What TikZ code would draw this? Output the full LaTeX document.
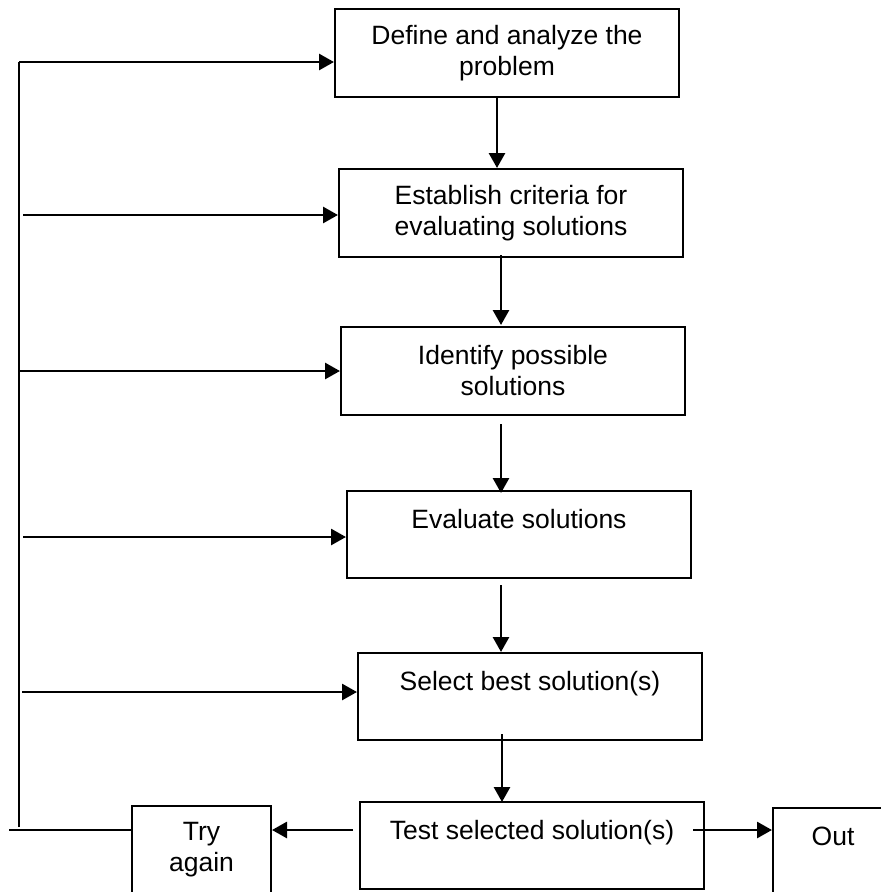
\documentclass[tikz,border=0pt]{standalone}
\usepackage{fontspec}
\setmainfont{Liberation Sans}
\usetikzlibrary{arrows.meta,calc}
\begin{document}
\begin{tikzpicture}[x=1pt,y=-1pt,
  box/.style={draw, line width=2pt, inner sep=0pt, minimum width=344pt, minimum height=88pt, align=center, font=\fontsize{26.5}{31}\selectfont},
  arr/.style={line width=2.8pt, -{Triangle[length=15pt,width=16pt]}},
  ln/.style={line width=2.8pt},
  thinln/.style={line width=1.5pt}]
\useasboundingbox (0,0) rectangle (881,892);
% boxes
\node[box] (b1) at (507,53) {Define and analyze the\\problem};
\node[box] (b2) at (511,213) {Establish criteria for\\evaluating solutions};
\node[box] (b3) at (513,371) {Identify possible\\solutions};
\node[box, minimum height=87pt] (b4) at (519,534.5) {Evaluate solutions\\\mbox{}};
\node[box, minimum height=87pt] (b5) at (530,696.5) {Select best solution(s)\\\mbox{}};
\node[box, minimum height=87pt] (b6) at (532,845.5) {Test selected solution(s)\\\mbox{}};
\node[box, minimum width=139pt, minimum height=87pt] (t) at (201.5,849.5) {Try\\again};
\node[box, minimum width=120pt, minimum height=87pt] (o) at (833,851.5) {Out\\\mbox{}};
% helper coordinates
\coordinate (l1) at (19,62);
\coordinate (l2) at (23,215);
\coordinate (l3) at (19,371);
\coordinate (l4) at (23,537);
\coordinate (l5) at (22,692);
\coordinate (lb) at (19,827);
\coordinate (lend) at (9,830);
\coordinate (h) at (0,830);
\coordinate (v1) at (497,0);
\coordinate (v2) at (501,0);
\coordinate (v5) at (502,0);
% left feedback line
\draw[ln] (lb) -- (l1);
\draw[arr] (l1) -- (l1 -| b1.west);
\draw[arr] (l2) -- (l2 -| b2.west);
\draw[arr] (l3) -- (l3 -| b3.west);
\draw[arr] (l4) -- (l4 -| b4.west);
\draw[arr] (l5) -- (l5 -| b5.west);
\draw[thinln] (lend) -- (t.west |- h);
% main flow
\draw[arr] (v1 |- b1.south) -- (v1 |- b2.north);
\draw[arr] ($(v2 |- b2.south)+(0,-3)$) -- ($(v2 |- b3.north)+(0,-1)$);
\draw[arr] ($(v2 |- b3.south)+(0,8)$) -- ($(v2 |- b4.north)+(0,3)$);
\draw[arr] ($(v2 |- b4.south)+(0,6)$) -- (v2 |- b5.north);
\draw[arr] ($(v5 |- b5.south)+(0,-7)$) -- ($(v5 |- b6.north)+(0,1)$);
% outputs
\draw[arr] ($(b6.west |- h)+(-6,0)$) -- (t.east |- h);
\draw[arr] ($(b6.east |- h)+(-12,0)$) -- (o.west |- h);
\end{tikzpicture}
\end{document}
